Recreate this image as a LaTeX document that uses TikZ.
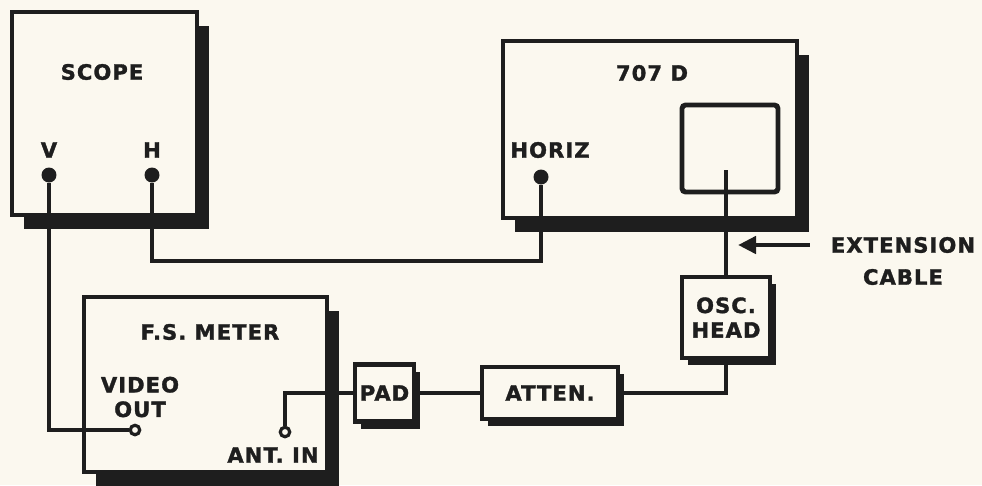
\documentclass[tikz,border=0pt]{standalone}
\usepackage{fontspec}
\newfontfamily\lblfont{DejaVu Sans}[LetterSpace=5, BoldFeatures={FakeBold=1.5}]
\usetikzlibrary{arrows.meta,shadows}

\definecolor{paper}{HTML}{FBF8EF}
\definecolor{ink}{HTML}{1E1E1E}

\tikzset{
  box/.style={draw=ink, fill=paper, line width=2.8pt, inner sep=0pt},
  bigbox/.style={box, drop shadow={shadow xshift=0.24cm, shadow yshift=-0.28cm, fill=ink, opacity=1}},
  smallbox/.style={box, drop shadow={shadow xshift=0.12cm, shadow yshift=-0.14cm, fill=ink, opacity=1}},
  lbl/.style={font=\lblfont\bfseries\fontsize{12}{14}\selectfont, text=ink, align=center},
  wire/.style={draw=ink, line width=2.3pt},
  jack/.style={circle, fill=ink, inner sep=0pt, minimum size=0.3cm},
  tap/.style={circle, draw=ink, fill=paper, line width=1.8pt, inner sep=0pt, minimum size=0.19cm},
}

\begin{document}
\begin{tikzpicture}[x=0.02cm, y=-0.02cm]

% ---------- paper ----------
\fill[paper] (0,0) rectangle (982,485);
\useasboundingbox (0,0) rectangle (982,485);

% ---------- units ----------
\node[bigbox, minimum width=3.7cm, minimum height=4.06cm] (scope) at (104.5,113.5) {};
\node[bigbox, minimum width=5.88cm, minimum height=3.54cm] (dev) at (650,129.5) {};
\node[bigbox, minimum width=4.86cm, minimum height=3.5cm] (fsm) at (205.5,384.5) {};
\node[box, rounded corners=2pt, minimum width=1.92cm, minimum height=1.74cm] (screen) at (730,148.5) {};

\node[smallbox, lbl, minimum width=1.18cm, minimum height=1.14cm] (pad) at (384.5,393) {PAD};
\node[smallbox, lbl, minimum width=2.72cm, minimum height=1.04cm] (atten) at (550,393) {ATTEN.};
\node[smallbox, lbl, minimum width=1.76cm, minimum height=1.62cm] (osc) at (726,317.5) {OSC.\\HEAD};

% ---------- labels ----------
\node[lbl] (scopelbl) at (102,72) {SCOPE};
\node[lbl] (vlbl) at (49,150) {V};
\node[lbl] (hlbl) at (152,150) {H};
\node[lbl] (devlbl) at (652,73) {707 D};
\node[lbl] (horizlbl) at (550,150) {HORIZ};
\node[lbl] (fsmlbl) at (210,332) {F.S. METER};
\node[lbl] (voutlbl) at (140,397) {VIDEO\\OUT};
\node[lbl] (antinlbl) at (273,455) {ANT. IN};
\node[lbl] (ext) at (903,245) {EXTENSION};
\node[lbl] (cable) at (903,277) {CABLE};

% ---------- terminals ----------
\node[jack] (v) at (49,175) {};
\node[jack] (h) at (152,175) {};
\node[jack] (horiz) at (541,177) {};
\node[tap] (vout) at (135,430) {};
\node[tap] (antin) at (285,432) {};
\coordinate (probe) at (726,170);
\coordinate (tip) at (738,245);

% ---------- wiring ----------
\draw[wire] (v) |- (vout);
\draw[wire] (h) -- ++(0,86) -| (horiz);
\draw[wire] (probe) -- (osc.north);
\draw[wire] (osc.south) |- (atten.east);
\draw[wire] (atten.west) -- (pad.east);
\draw[wire] (antin) |- (pad.west);
\draw[wire, line width=2.6pt, -{Triangle[length=0.36cm, width=0.34cm]}] ([xshift=-0.3cm]ext.west) -- (tip);

\end{tikzpicture}
\end{document}
